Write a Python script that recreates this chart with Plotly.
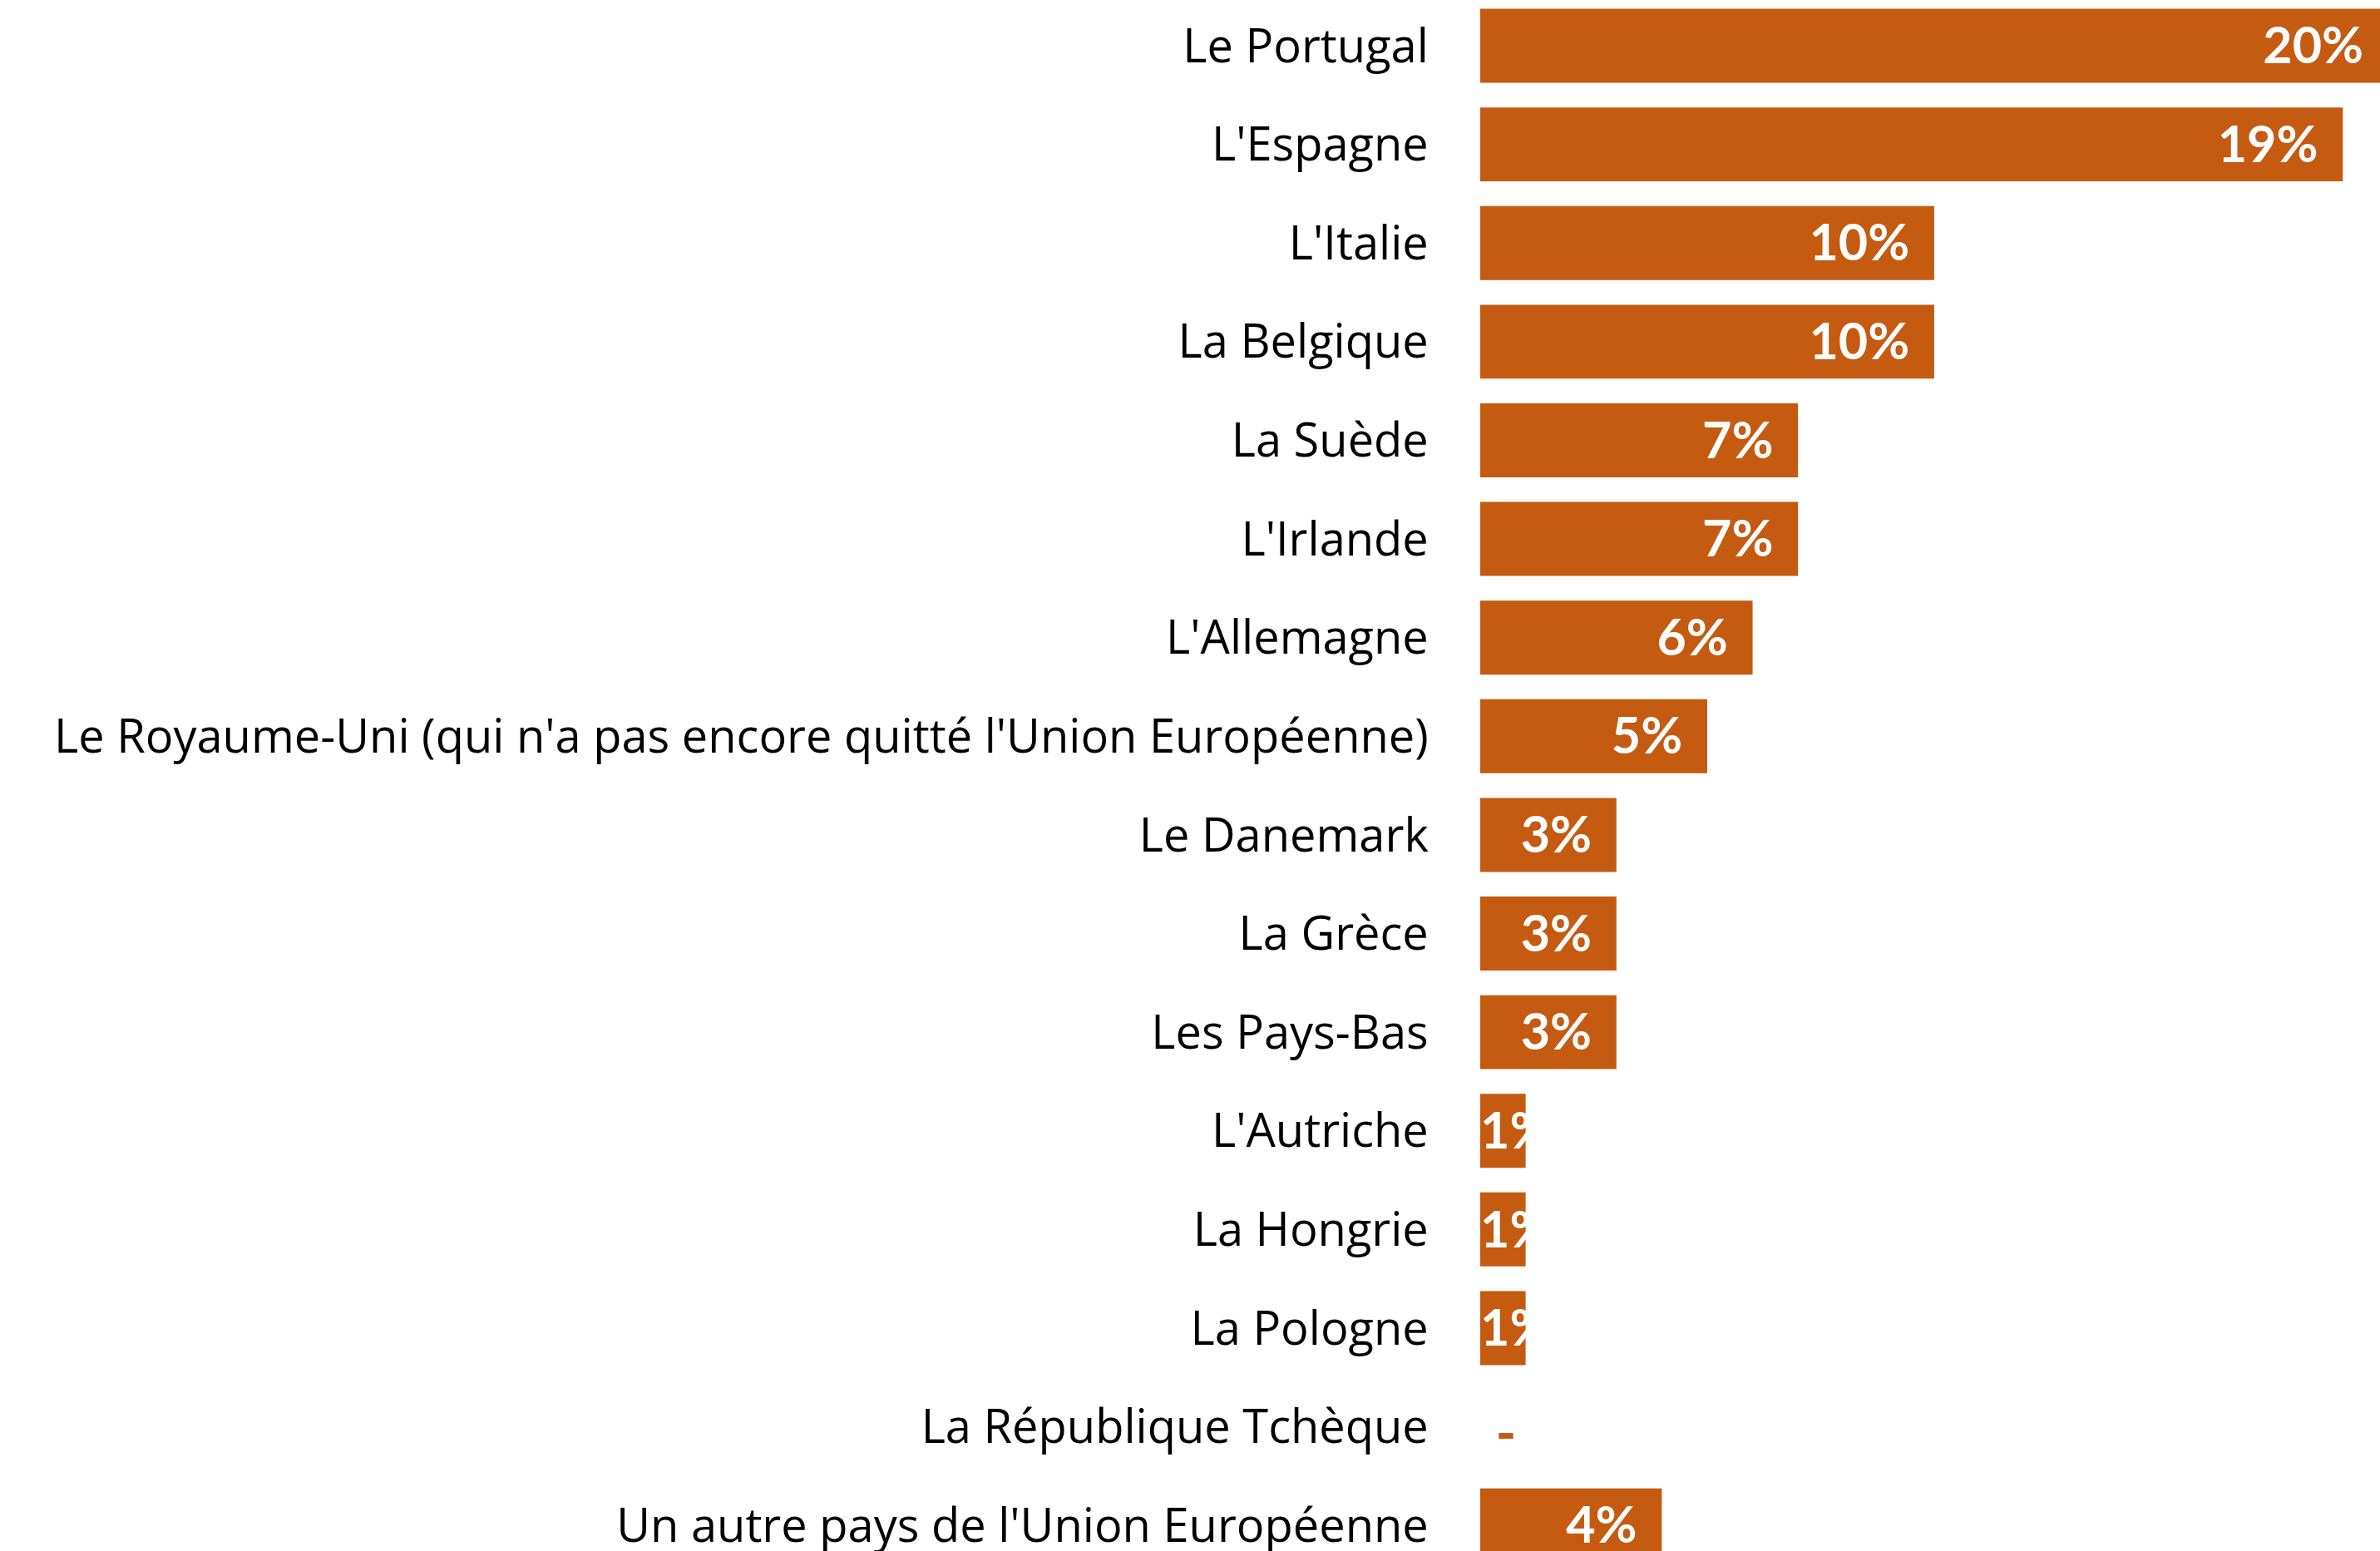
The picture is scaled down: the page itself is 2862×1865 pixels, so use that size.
import plotly.graph_objects as go

# Survey shares by country (percent)
countries = [
    "Le Portugal",
    "L'Espagne",
    "L'Italie",
    "La Belgique",
    "La Suède",
    "L'Irlande",
    "L'Allemagne",
    "Le Royaume-Uni (qui n'a pas encore quitté l'Union Européenne)",
    "Le Danemark",
    "La Grèce",
    "Les Pays-Bas",
    "L'Autriche",
    "La Hongrie",
    "La Pologne",
    "La République Tchèque",
    "Un autre pays de l'Union Européenne",
]
shares = [20, 19, 10, 10, 7, 7, 6, 5, 3, 3, 3, 1, 1, 1, 0, 4]

BAR_COLOR = "#C55A11"
LABEL_FONT = "Open Sans"
VALUE_FONT = "Lato"
VALUE_SIZE = 61

rows = list(range(len(countries)))


def label_of(v):
    return f"{v}%" if v > 0 else "-"


fig = go.Figure()

fig.add_trace(go.Bar(
    x=shares,
    y=rows,
    orientation="h",
    marker=dict(color=BAR_COLOR, line=dict(width=0)),
    width=0.75,
    hoverinfo="skip",
    showlegend=False,
))

# small downward nudge so the digits sit centred on each bar
TEXT_NUDGE = 0.05

# Value labels: right-aligned inside wide bars
wide = [i for i, v in enumerate(shares) if v >= 2]
fig.add_trace(go.Scatter(
    x=[shares[i] for i in wide],
    y=[rows[i] + TEXT_NUDGE for i in wide],
    text=[label_of(shares[i]) for i in wide],
    mode="markers+text",
    marker=dict(size=46, color="rgba(0,0,0,0)"),
    textposition="middle left",
    textfont=dict(family=VALUE_FONT, size=VALUE_SIZE, color="white", weight="bold"),
    hoverinfo="skip",
    showlegend=False,
))

# Narrow bars: label starts at the bar origin and runs past it
narrow = [i for i, v in enumerate(shares) if 0 < v < 2]
fig.add_trace(go.Scatter(
    x=[0 for i in narrow],
    y=[rows[i] + TEXT_NUDGE for i in narrow],
    text=[label_of(shares[i]) for i in narrow],
    mode="text",
    textposition="middle right",
    textfont=dict(family=VALUE_FONT, size=VALUE_SIZE, color="white", weight="bold"),
    hoverinfo="skip",
    showlegend=False,
))

# Empty bars: a dash in the bar colour
empty = [i for i, v in enumerate(shares) if v == 0]
fig.add_trace(go.Scatter(
    x=[shares[i] for i in empty],
    y=[rows[i] + 0.12 for i in empty],
    text=[label_of(shares[i]) for i in empty],
    mode="markers+text",
    marker=dict(size=28, color="rgba(0,0,0,0)"),
    textposition="middle right",
    textfont=dict(family=VALUE_FONT, size=VALUE_SIZE + 6, color=BAR_COLOR, weight="bold"),
    hoverinfo="skip",
    showlegend=False,
))

fig.update_layout(
    width=2862,
    height=1865,
    margin=dict(l=1780, r=0, t=0, b=0, pad=0),
    paper_bgcolor="white",
    plot_bgcolor="white",
    xaxis=dict(range=[0, 19.82], visible=False, fixedrange=True),
    yaxis=dict(
        tickmode="array",
        tickvals=rows,
        ticktext=countries,
        range=[15.26, -0.464],
        showgrid=False,
        zeroline=False,
        showline=False,
        ticks="outside",
        ticklen=50,
        tickcolor="rgba(0,0,0,0)",
        tickfont=dict(family=LABEL_FONT, size=56, color="black"),
        ticklabeloverflow="allow",
        automargin=False,
        fixedrange=True,
    ),
)

fig.write_html("out.html")
